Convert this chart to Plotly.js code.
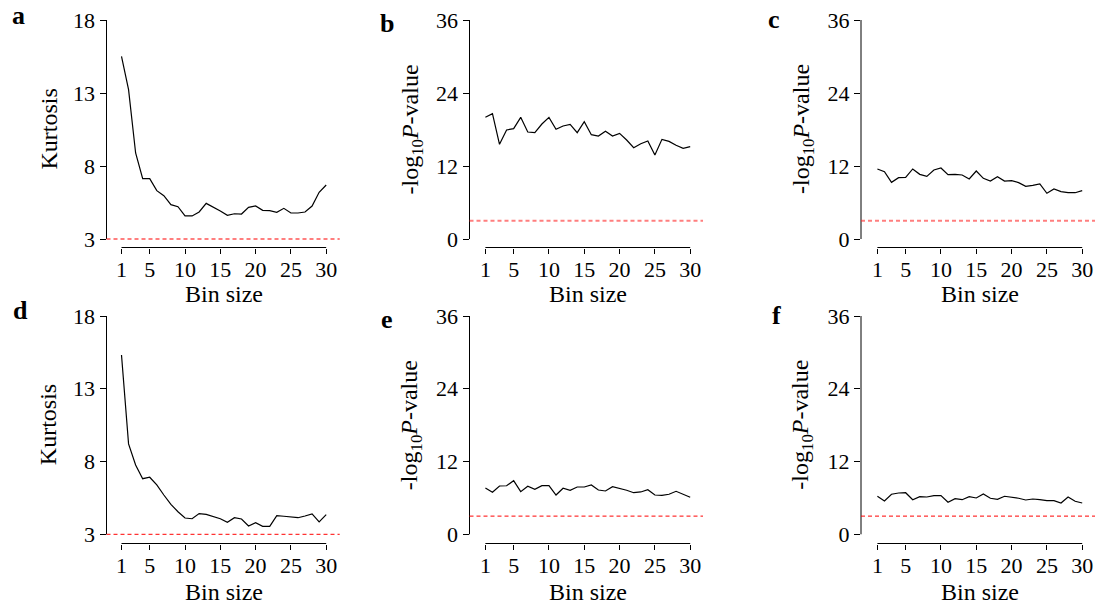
<!DOCTYPE html>
<html><head><meta charset="utf-8">
<script src="https://cdn.plot.ly/plotly-3.0.1.min.js"></script>
<style>html,body{margin:0;padding:0;background:#fff}#chart{width:1097px;height:606px}</style>
</head><body><div id="chart"></div>
<script>
// ---- data ----
const binSize = [1,2,3,4,5,6,7,8,9,10,11,12,13,14,15,16,17,18,19,20,21,22,23,24,25,26,27,28,29,30];
const kurtosisA = [15.51,13.23,8.89,7.13,7.13,6.31,5.97,5.35,5.21,4.58,4.58,4.85,5.44,5.19,4.92,4.62,4.73,4.71,5.17,5.26,4.96,4.94,4.83,5.10,4.78,4.78,4.85,5.26,6.20,6.70];
const pvalB = [20.0,20.6,15.56,17.92,18.14,20.0,17.59,17.48,18.9,20.0,18.03,18.58,18.85,17.48,19.29,17.15,16.93,17.7,16.93,17.37,16.27,15.01,15.67,16.11,13.81,16.38,16.05,15.4,14.9,15.18];
const pvalC = [11.51,11.07,9.32,10.08,10.14,11.51,10.63,10.3,11.34,11.67,10.58,10.63,10.52,9.86,11.18,9.97,9.53,10.25,9.53,9.59,9.26,8.66,8.82,9.04,7.51,8.22,7.78,7.61,7.61,7.94];
const kurtosisD = [15.32,9.21,7.76,6.82,6.92,6.39,5.70,5.06,4.55,4.12,4.07,4.42,4.37,4.21,4.07,3.82,4.14,4.05,3.57,3.80,3.55,3.55,4.28,4.24,4.19,4.14,4.26,4.40,3.85,4.35];
const pvalE = [7.64,6.93,7.97,8.01,8.84,7.03,7.92,7.42,8.02,8.02,6.48,7.59,7.26,7.8,7.8,8.13,7.31,7.14,7.85,7.59,7.26,6.86,6.98,7.36,6.48,6.43,6.6,7.09,6.6,6.10];
const pvalF = [6.27,5.49,6.6,6.81,6.86,5.71,6.2,6.15,6.37,6.37,5.28,5.87,5.71,6.2,5.99,6.65,5.94,5.77,6.27,6.15,5.94,5.66,5.82,5.71,5.54,5.54,5.16,6.15,5.44,5.16];
const xTickVals = [1,5,10,15,20,25,30];
const kurtTicks = [3,8,13,18];
const pTicks = [0,12,24,36];
const threshold = 3;
const xTitle = 'Bin size';
const kurtTitle = 'Kurtosis';
const pTitle = '-log<sub>10</sub><i>P</i>-value';
const letters = ['a','b','c','d','e','f'];

// ---- layout geometry (pixels) ----
const W = 1097, H = 606;
const cols = [
  {L:106.5, R:339.7, x1:121.5, x30:326.2},
  {L:469.5, R:703.0, x1:485.4, x30:690.2},
  {L:861.0, R:1095.0, x1:877.4, x30:1082.2}
];
const rows = [
  {top:20, bot:239, axisY:247.5, titleY:293.5},
  {top:316, bot:534.3, axisY:543.5, titleY:591.5}
];
const letterPos = [[18.5,15.5],[386.5,23.5],[773.5,20],[20.5,310.5],[386.7,319],[776,315]];

const panels = [
  {y: kurtosisA, ticks: kurtTicks, title: kurtTitle, col:0, row:0},
  {y: pvalB, ticks: pTicks, title: pTitle, col:1, row:0},
  {y: pvalC, ticks: pTicks, title: pTitle, col:2, row:0},
  {y: kurtosisD, ticks: kurtTicks, title: kurtTitle, col:0, row:1},
  {y: pvalE, ticks: pTicks, title: pTitle, col:1, row:1},
  {y: pvalF, ticks: pTicks, title: pTitle, col:2, row:1}
];

const FONT = '"Liberation Serif"';
const traces = [];
const layout = {
  width: W, height: H,
  margin: {l:0, r:0, t:0, b:0},
  paper_bgcolor: '#fff', plot_bgcolor: '#fff',
  showlegend: false,
  font: {family: FONT, color: '#000', size: 20},
  shapes: [], annotations: []
};

panels.forEach((p, i) => {
  const n = i + 1;
  const xs = n === 1 ? '' : String(n);
  const c = cols[p.col], r = rows[p.row];
  const ppx = (c.x30 - c.x1) / 29;
  const xl = 1 - (c.x1 - c.L) / ppx;
  const xr = 30 + (c.R - c.x30) / ppx;
  const ymin = p.ticks[0], ymax = p.ticks[p.ticks.length - 1];
  const ppy = (r.bot - r.top) / (ymax - ymin);
  const padPx = 2;
  const yLow = ymin - padPx / ppy;

  traces.push({
    type: 'scatter', mode: 'lines', x: binSize, y: p.y,
    xaxis: 'x' + xs, yaxis: 'y' + xs,
    line: {color: '#000', width: 1.2}, hoverinfo: 'skip'
  });

  layout['xaxis' + xs] = {
    domain: [c.L / W, c.R / W], range: [xl, xr],
    anchor: 'free', position: 1 - r.axisY / H,
    tickvals: xTickVals, ticktext: xTickVals.map(String),
    ticks: 'outside', ticklen: 5, tickwidth: 1, tickcolor: '#000',
    ticklabelstandoff: -3,
    showline: false, showgrid: false, zeroline: false,
    tickfont: {family: FONT, size: 22, color: '#000'},
    fixedrange: true
  };
  layout['yaxis' + xs] = {
    domain: [1 - (r.bot + padPx) / H, 1 - r.top / H], range: [yLow, ymax],
    anchor: 'x' + xs,
    tickvals: p.ticks, ticktext: p.ticks.map(String),
    ticks: 'outside', ticklen: 6, tickwidth: 1, tickcolor: '#000',
    showline: false, showgrid: false, zeroline: false,
    tickfont: {family: FONT, size: 22, color: '#000'},
    fixedrange: true
  };

  layout.shapes.push({type:'line', xref:'x' + xs + ' domain', yref:'y' + xs,
    x0:0, x1:0, y0:ymin, y1:ymax, line:{color:'#000', width:1}});
  layout.shapes.push({type:'line', xref:'x' + xs, yref:'paper',
    x0:binSize[0], x1:binSize[binSize.length-1], y0:1 - r.axisY / H, y1:1 - r.axisY / H,
    line:{color:'#000', width:1}});
  layout.shapes.push({type:'line', xref:'x' + xs + ' domain', yref:'y' + xs,
    x0:0, x1:1, y0:threshold, y1:threshold,
    line: p.row === 0 ? {color:'rgba(255,40,40,0.6)', width:2, dash:'4px,3px'}
                      : {color:'#ff0000', width:1, dash:'4px,3px'}});

  layout.annotations.push({xref:'paper', yref:'paper', x:(c.L - 58.5) / W, y:1 - (r.top + r.bot) / 2 / H,
    text:p.title, textangle:-90, showarrow:false, xanchor:'center', yanchor:'middle',
    font:{family:FONT, size:24, color:'#000'}});
  layout.annotations.push({xref:'paper', yref:'paper', x:(c.x1 + c.x30) / 2 / W, y:1 - r.titleY / H,
    text:xTitle, showarrow:false, xanchor:'center', yanchor:'middle',
    font:{family:FONT, size:24, color:'#000'}});
  layout.annotations.push({xref:'paper', yref:'paper', x:letterPos[i][0] / W, y:1 - letterPos[i][1] / H,
    text:'<b>' + letters[i] + '</b>', showarrow:false, xanchor:'center', yanchor:'middle',
    font:{family:FONT, size:26, color:'#000'}});
});

Plotly.newPlot('chart', traces, layout, {staticPlot:true, displayModeBar:false});
</script>
</body></html>
